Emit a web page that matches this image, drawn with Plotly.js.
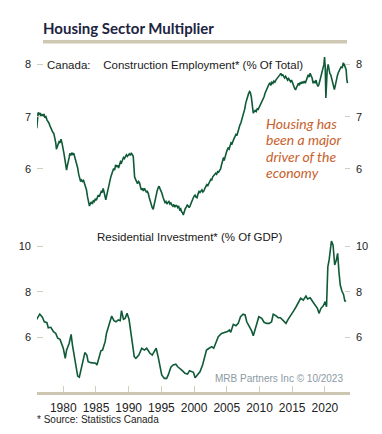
<!DOCTYPE html>
<html><head><meta charset="utf-8">
<script src="https://cdn.plot.ly/plotly-3.0.1.min.js"></script>
<style>html,body{margin:0;padding:0;background:#fff}#chart{width:382px;height:434px}</style>
</head><body><div id="chart"></div>
<script>
// Construction employment (% of total), Canada
var empYears = [1975.95,1976.05,1976.15,1976.3,1976.45,1976.6,1976.75,1976.9,1977.05,1977.2,1977.35,1977.5,1977.65,1977.8,1977.95,1978.1,1978.25,1978.4,1978.55,1978.7,1978.85,1978.95,1979.05,1979.2,1979.35,1979.5,1979.65,1979.8,1979.95,1980.1,1980.25,1980.4,1980.5,1980.6,1980.75,1980.9,1981.0,1981.15,1981.3,1981.45,1981.6,1981.75,1981.9,1982.05,1982.2,1982.35,1982.5,1982.65,1982.8,1982.95,1983.1,1983.25,1983.4,1983.55,1983.7,1983.85,1984.0,1984.15,1984.3,1984.45,1984.6,1984.75,1984.9,1985.05,1985.2,1985.35,1985.5,1985.65,1985.8,1985.95,1986.1,1986.25,1986.4,1986.5,1986.65,1986.8,1986.95,1987.1,1987.25,1987.4,1987.55,1987.7,1987.85,1988.0,1988.15,1988.3,1988.45,1988.6,1988.75,1988.9,1989.05,1989.2,1989.35,1989.5,1989.65,1989.8,1989.95,1990.1,1990.25,1990.4,1990.55,1990.7,1990.8,1990.9,1991.05,1991.2,1991.35,1991.5,1991.65,1991.8,1991.95,1992.1,1992.25,1992.4,1992.55,1992.7,1992.85,1993.0,1993.15,1993.3,1993.45,1993.6,1993.75,1993.9,1994.05,1994.2,1994.35,1994.5,1994.65,1994.8,1994.95,1995.1,1995.25,1995.4,1995.55,1995.7,1995.85,1996.0,1996.15,1996.3,1996.45,1996.6,1996.75,1996.9,1997.05,1997.2,1997.35,1997.5,1997.65,1997.8,1997.95,1998.1,1998.25,1998.35,1998.5,1998.65,1998.8,1998.95,1999.1,1999.25,1999.4,1999.55,1999.7,1999.85,2000.0,2000.15,2000.3,2000.45,2000.6,2000.75,2000.9,2001.05,2001.2,2001.35,2001.5,2001.65,2001.8,2001.95,2002.1,2002.25,2002.4,2002.55,2002.7,2002.85,2003.0,2003.15,2003.3,2003.45,2003.6,2003.75,2003.9,2004.05,2004.2,2004.35,2004.5,2004.6,2004.75,2004.9,2005.05,2005.2,2005.35,2005.5,2005.65,2005.8,2005.95,2006.1,2006.25,2006.4,2006.55,2006.7,2006.85,2007.0,2007.15,2007.3,2007.45,2007.6,2007.75,2007.9,2008.05,2008.2,2008.35,2008.5,2008.6,2008.75,2008.9,2009.05,2009.2,2009.35,2009.5,2009.65,2009.8,2009.95,2010.1,2010.25,2010.4,2010.55,2010.7,2010.85,2011.0,2011.15,2011.3,2011.45,2011.6,2011.75,2011.9,2012.05,2012.2,2012.35,2012.5,2012.65,2012.8,2012.95,2013.1,2013.25,2013.4,2013.55,2013.7,2013.85,2014.0,2014.15,2014.3,2014.45,2014.6,2014.75,2014.9,2015.05,2015.2,2015.35,2015.5,2015.65,2015.8,2015.95,2016.1,2016.25,2016.4,2016.55,2016.7,2016.85,2017.0,2017.15,2017.3,2017.45,2017.6,2017.75,2017.9,2018.05,2018.2,2018.35,2018.5,2018.65,2018.8,2018.95,2019.1,2019.25,2019.4,2019.55,2019.7,2019.85,2019.95,2020.05,2020.15,2020.25,2020.35,2020.5,2020.6,2020.75,2020.9,2021.05,2021.2,2021.35,2021.45,2021.6,2021.75,2021.9,2022.05,2022.2,2022.35,2022.5,2022.65,2022.8,2022.95,2023.1,2023.25,2023.35,2023.45];
var empValues = [6.78,6.95,7.08,7.05,7.07,7.00,7.04,7.02,7.05,6.98,7.00,6.94,6.92,6.88,6.83,6.78,6.76,6.70,6.68,6.60,6.50,6.38,6.42,6.48,6.52,6.50,6.57,6.50,6.42,6.30,6.18,6.05,5.98,6.05,6.12,6.22,6.30,6.26,6.31,6.28,6.30,6.24,6.16,6.08,6.02,5.90,5.82,5.76,5.79,5.76,5.78,5.72,5.69,5.60,5.47,5.36,5.29,5.34,5.37,5.33,5.40,5.38,5.43,5.40,5.46,5.50,5.47,5.54,5.57,5.55,5.63,5.55,5.44,5.41,5.50,5.60,5.66,5.75,5.84,5.90,5.96,6.01,5.98,6.08,6.04,6.07,6.02,6.10,6.14,6.12,6.19,6.22,6.20,6.25,6.27,6.24,6.28,6.29,6.26,6.30,6.28,6.24,6.05,5.85,5.80,5.77,5.72,5.76,5.74,5.66,5.60,5.63,5.58,5.63,5.60,5.56,5.57,5.53,5.45,5.37,5.32,5.26,5.23,5.33,5.42,5.50,5.58,5.64,5.67,5.62,5.58,5.53,5.46,5.41,5.36,5.38,5.33,5.36,5.38,5.33,5.35,5.31,5.29,5.32,5.27,5.30,5.30,5.26,5.28,5.22,5.24,5.18,5.16,5.12,5.20,5.24,5.27,5.31,5.29,5.26,5.30,5.36,5.41,5.44,5.48,5.50,5.46,5.45,5.52,5.57,5.55,5.59,5.60,5.56,5.58,5.63,5.66,5.70,5.68,5.74,5.76,5.80,5.79,5.85,5.87,5.90,5.92,5.90,5.95,5.94,5.98,6.00,6.08,6.14,6.22,6.16,6.27,6.30,6.36,6.40,6.38,6.46,6.50,6.48,6.55,6.58,6.62,6.66,6.64,6.72,6.76,6.84,6.88,6.94,7.00,7.06,7.15,7.26,7.34,7.40,7.45,7.48,7.46,7.38,7.22,7.07,7.10,7.12,7.10,7.15,7.14,7.18,7.20,7.24,7.28,7.32,7.38,7.45,7.50,7.55,7.58,7.62,7.64,7.60,7.66,7.64,7.68,7.66,7.70,7.72,7.74,7.78,7.80,7.83,7.79,7.80,7.76,7.74,7.77,7.72,7.70,7.73,7.68,7.67,7.70,7.64,7.62,7.55,7.51,7.56,7.62,7.64,7.60,7.66,7.63,7.67,7.64,7.68,7.64,7.70,7.74,7.80,7.76,7.83,7.78,7.74,7.64,7.68,7.64,7.70,7.62,7.58,7.62,7.70,7.77,7.85,7.90,8.00,8.14,7.95,7.36,7.70,7.89,8.00,7.92,7.83,7.80,7.72,7.62,7.55,7.52,7.60,7.72,7.78,7.84,7.89,7.92,7.96,7.93,8.03,8.00,7.94,7.90,7.72,7.64];

// Residential investment (% of GDP)
var resYears = [1975.93,1976.4,1976.8,1977.1,1977.5,1977.7,1978.1,1978.5,1978.85,1979.15,1979.5,1979.75,1980.0,1980.3,1980.5,1980.9,1981.2,1981.4,1981.7,1981.95,1982.2,1982.45,1982.8,1983.05,1983.3,1983.6,1983.8,1984.2,1984.6,1984.95,1985.15,1985.45,1985.75,1986.0,1986.4,1986.6,1987.0,1987.4,1987.75,1988.05,1988.4,1988.7,1988.9,1989.2,1989.45,1989.75,1990.05,1990.35,1990.6,1990.85,1991.1,1991.55,1992.0,1992.4,1992.75,1993.25,1993.6,1993.9,1994.2,1994.5,1994.8,1995.05,1995.45,1995.8,1996.05,1996.45,1996.8,1997.2,1997.5,1997.85,1998.2,1998.6,1999.0,1999.3,1999.6,1999.9,2000.15,2000.5,2000.9,2001.3,2001.65,2001.9,2002.3,2002.7,2003.0,2003.35,2003.7,2004.2,2004.7,2005.1,2005.4,2005.6,2006.0,2006.4,2006.75,2007.1,2007.5,2007.8,2008.05,2008.45,2008.8,2009.05,2009.3,2009.6,2009.9,2010.35,2010.7,2011.1,2011.5,2011.85,2012.1,2012.5,2012.85,2013.2,2013.6,2014.05,2014.4,2014.75,2015.2,2015.6,2015.95,2016.3,2016.7,2017.1,2017.35,2017.75,2018.15,2018.5,2018.85,2019.1,2019.4,2019.75,2020.05,2020.25,2020.45,2020.65,2021.0,2021.25,2021.5,2021.75,2021.95,2022.15,2022.35,2022.6,2022.85,2023.05,2023.25];
var resValues = [6.79,7.02,6.88,6.68,6.64,6.42,6.44,6.25,6.17,5.96,5.91,5.74,5.52,5.08,5.44,5.74,6.13,5.66,5.15,4.86,4.30,4.25,4.71,4.93,5.33,5.22,4.93,4.89,4.86,4.86,4.79,5.08,5.41,5.44,5.81,6.17,6.61,6.93,6.73,6.68,6.76,6.73,7.17,6.79,6.83,7.05,6.79,6.17,5.59,5.15,5.08,5.22,5.52,5.44,5.52,5.30,5.22,5.37,5.52,5.15,4.71,4.35,4.20,4.20,4.35,4.69,4.79,4.82,4.71,4.64,4.54,4.42,4.39,4.54,4.49,4.47,4.23,4.35,4.49,4.79,5.15,5.44,5.52,5.59,5.52,5.81,6.03,6.17,6.22,6.25,6.32,6.22,6.57,6.51,6.61,6.90,7.01,6.98,6.68,6.46,6.28,6.07,6.32,6.68,6.90,6.83,6.66,6.61,6.61,6.68,7.01,6.95,6.86,6.86,6.76,6.61,6.80,6.98,7.15,7.34,7.56,7.71,7.63,7.81,7.68,7.73,7.56,7.41,7.27,7.05,7.27,7.38,7.56,7.34,9.09,9.39,10.22,10.04,9.17,9.39,9.68,8.87,8.29,8.03,7.88,7.59,7.59];

var xTicks = [1980,1985,1990,1995,2000,2005,2010,2015,2020];
var topTicks = [6,7,8];
var botTicks = [6,8,10];

var W = 382, H = 434, L = 37, R = 32, T = 55, B = 42;
var pw = W - L - R, ph = H - T - B;
function px(x){ return (x - L) / pw; }
function py(y){ return (H - B - y) / ph; }

var green = '#0f5a37';
var tickFont = {family: 'Liberation Sans, Arial, sans-serif', size: 11, color: '#222'};
var traces = [
  {x: empYears, y: empValues, xaxis: 'x', yaxis: 'y', mode: 'lines', line: {color: green, width: 1.6}, hoverinfo: 'skip'},
  {x: empYears, y: empValues, xaxis: 'x', yaxis: 'y3', mode: 'lines', line: {color: 'rgba(0,0,0,0)', width: 0}, hoverinfo: 'skip'},
  {x: resYears, y: resValues, xaxis: 'x', yaxis: 'y2', mode: 'lines', line: {color: green, width: 1.6}, hoverinfo: 'skip'},
  {x: resYears, y: resValues, xaxis: 'x', yaxis: 'y4', mode: 'lines', line: {color: 'rgba(0,0,0,0)', width: 0}, hoverinfo: 'skip'}
];

var topRange = [5.024, 8.18], botRange = [3.604, 11.14];
var split = py(220);
function yax(dom, rng, ticks, side, overl){
  var a = {domain: dom, range: rng, tickvals: ticks, ticks: 'inside', ticklen: 6, tickwidth: 1,
    tickcolor: '#d3cdbd', showgrid: false, zeroline: false, showline: false, tickfont: tickFont,
    side: side, fixedrange: true, ticklabelstandoff: 5};
  if (overl) { a.overlaying = overl; a.ticklen = 5; a.ticklabelstandoff = 5; }
  return a;
}
var layout = {
  width: W, height: H, margin: {l: L, r: R, t: T, b: B},
  paper_bgcolor: '#fff', plot_bgcolor: '#fff', showlegend: false,
  title: {text: 'Housing Sector Multiplier', x: 43/W, xanchor: 'left', y: 1 - 29/H, yanchor: 'middle',
    font: {family: 'Lato, Open Sans, sans-serif', size: 15, color: '#1c2440', weight: 700}},
  xaxis: {range: [1975.98, 2023.84], tickvals: xTicks, ticks: 'inside', ticklen: 6, tickcolor: '#d3cdbd',
    showline: true, linecolor: '#cdc6b3', linewidth: 3, showgrid: false, zeroline: false,
    anchor: 'y2', tickfont: {family: 'Liberation Sans, Arial, sans-serif', size: 12, color: '#222'}, ticklabelstandoff: 3, fixedrange: true},
  yaxis: yax([split, 1], topRange, topTicks, 'left'),
  yaxis3: yax([split, 1], topRange, topTicks, 'right', 'y'),
  yaxis2: yax([0, split], botRange, botTicks, 'left'),
  yaxis4: yax([0, split], botRange, botTicks, 'right', 'y2'),
  shapes: [
    {type: 'rect', xref: 'paper', yref: 'paper', x0: px(43), x1: px(347), y0: py(43.5), y1: py(40), fillcolor: '#cdc7b4', line: {width: 0}}
  ],
  annotations: []
};
var labFont = {family: 'Liberation Sans, Arial, sans-serif', size: 11.5, color: '#1a1a1a'};
function ann(text, x, y, font, anchor, h){
  var a = {text: text, xref: 'paper', yref: 'paper', x: px(x), y: py(y), xanchor: anchor || 'left', yanchor: 'middle', showarrow: false, font: font, borderpad: 0};
  if (h) a.height = h;
  layout.annotations.push(a);
}
ann('Canada:&nbsp;&nbsp;&nbsp;&nbsp;Construction Employment* (% Of Total)', 46, 64.7, labFont);
ann('Residential Investment* (% Of GDP)', 96, 236.7, labFont);
var noteFont = {family: 'Lato, Open Sans, sans-serif', size: 14, color: '#c8612c', style: 'italic'};
ann('Housing has', 265, 123.5, noteFont, 'left', 15);
ann('been a major', 265, 139.8, noteFont, 'left', 15);
ann('driver of the', 265, 156, noteFont, 'left', 15);
ann('economy', 265, 172, noteFont, 'left', 15);
ann('MRB Partners Inc © 10/2023', 214, 378, {family: 'Liberation Sans, Arial, sans-serif', size: 10, color: '#8b9aa3'});
ann('* Source: Statistics Canada', 36, 419, {family: 'Liberation Sans, Arial, sans-serif', size: 10, color: '#222'});

Plotly.newPlot('chart', traces, layout, {staticPlot: true, displayModeBar: false});
</script></body></html>
